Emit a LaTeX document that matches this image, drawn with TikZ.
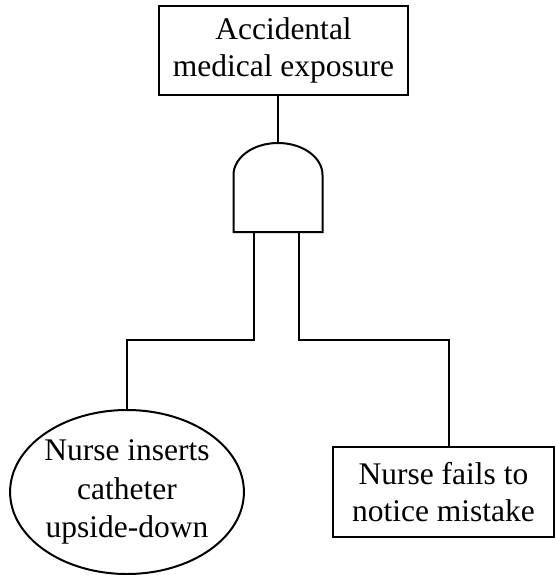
\documentclass[tikz,border=0pt]{standalone}
\usepackage{fontspec}
\setmainfont{Liberation Serif}
\usetikzlibrary{shapes.geometric}

\tikzset{
  evt/.style={draw, line width=2pt, rectangle, align=center, inner sep=0pt,
    font=\fontsize{31.5}{36.7}\selectfont},
  basic/.style={draw, line width=2pt, ellipse, align=center, inner sep=0pt,
    font=\fontsize{31.5}{38.5}\selectfont},
  wire/.style={line width=2pt}
}

\begin{document}
\begin{tikzpicture}[x=1pt,y=-1pt]
        \useasboundingbox (0,0) rectangle (555,575);

        % Evenement sommet
        \node[evt, minimum width=249pt, minimum height=89pt] (top) at (283.5,50.5)
          {Accidental\\medical exposure};

        % Porte ET
        \coordinate (gate) at (278,143);
        \coordinate (gL) at (254,232);
        \coordinate (gR) at (299,232);
        \draw[wire] (233.5,232) -- (233.5,175) arc[start angle=180, end angle=0,
          x radius=44.5, y radius=-32] -- (322.5,232) -- cycle;

        % Evenements de base
        \node[basic, minimum width=230pt, minimum height=164pt] (ins) at (127,492)
          {Nurse inserts\\catheter\\upside-down};
        \node[evt, minimum width=221pt, minimum height=90pt] (fail) at (443.5,492)
          {Nurse fails to\\notice mistake};

        % Liaisons
        \draw[wire] (top.south -| gate) -- (gate);
        \draw[wire] (gL) -- ++(0,108) -| (ins.north);
        \draw[wire] (gR) -- ++(0,108) -| ([xshift=5.5pt]fail.north);

    \end{tikzpicture}
\end{document}
